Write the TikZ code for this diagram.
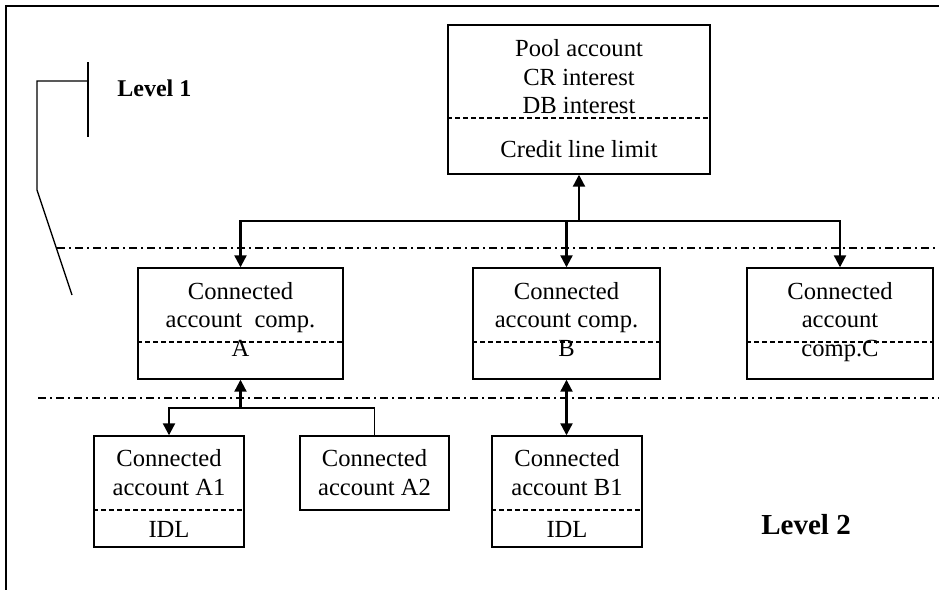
\documentclass[tikz,border=0pt]{standalone}
\usepackage{fontspec}
\setmainfont{Liberation Serif}
\usetikzlibrary{arrows.meta}
\tikzset{
  box/.style={draw, line width=0.7pt, inner sep=0pt, rectangle},
  txt/.style={anchor=base, inner sep=0pt, font=\fontsize{12.3}{14}\selectfont},
  lvl/.style={anchor=base west, inner sep=0pt, font=\bfseries},
  sep/.style={dash pattern=on 2.5pt off 1.5pt, line width=0.55pt},
  levelline/.style={dash pattern=on 4pt off 2pt on 1pt off 2pt, line width=0.65pt},
  conn/.style={line width=1.1pt, -{Triangle[length=6pt,width=6pt]}},
  bothconn/.style={line width=1.1pt, {Triangle[length=6pt,width=6pt]}-{Triangle[length=6pt,width=6pt]}},
  thin/.style={line width=0.7pt}
}
\begin{document}
\begin{tikzpicture}[x=0.5pt,y=-0.5pt]
\useasboundingbox (0,0) rectangle (939,590);
% frame
\draw[line width=0.9pt] (939,6) -- (6,6) -- (6,590);
% level separators
\draw[levelline] (57,248) -- (939,248);
\draw[levelline] (38,398) -- (939,398);
% level 1 bracket
\draw[thin] (88,62) -- (88,137);
\draw[thin] (88,81) -- (37,81) -- (37,190) -- (72,295);
\node[lvl, font=\fontsize{12}{14}\selectfont\bfseries] (lv1) at (117,96) {Level 1};
\node[lvl, font=\fontsize{14.5}{16}\selectfont\bfseries] (lv2) at (761,534) {Level 2};

% boxes
\node[box, minimum width=131pt, minimum height=74.5pt] (pool) at (579,99.5) {};
\node[box, minimum width=102.5pt, minimum height=55.5pt] (A) at (240.5,323.5) {};
\node[box, minimum width=93.5pt, minimum height=55.5pt] (B) at (566.5,323.5) {};
\node[box, minimum width=93pt, minimum height=55.5pt] (C) at (840,323.5) {};
\node[box, minimum width=75pt, minimum height=55.5pt] (A1) at (169,491.5) {};
\node[box, minimum width=74.5pt, minimum height=37pt] (A2) at (374.5,473) {};
\node[box, minimum width=75pt, minimum height=55.5pt] (B1) at (567,491.5) {};

% dashed separators inside boxes
\draw[sep] (pool.west |- 0,118) -- (pool.east |- 0,118);
\draw[sep] (A.west |- 0,342) -- (A.east |- 0,342);
\draw[sep] (B.west |- 0,342) -- (B.east |- 0,342);
\draw[sep] (C.west |- 0,342) -- (C.east |- 0,342);
\draw[sep] (A1.west |- 0,510) -- (A1.east |- 0,510);
\draw[sep] (B1.west |- 0,510) -- (B1.east |- 0,510);

% texts
\node[txt] (p1) at (579,56) {Pool account};
\node[txt] (p2) at (579,85) {CR interest};
\node[txt] (p3) at (579,113) {DB interest};
\node[txt] (p4) at (579,157) {Credit line limit};

\node[txt] (a1) at (240.5,299) {Connected};
\node[txt] (a2) at (240.5,327) {account\ \ comp.};
\node[txt] (a3) at (240.5,356) {A};

\node[txt] (b1) at (566.5,299) {Connected};
\node[txt] (b2) at (566.5,327) {account comp.};
\node[txt] (b3) at (566.5,356) {B};

\node[txt] (c1) at (840,299) {Connected};
\node[txt] (c2) at (840,327) {account};
\node[txt] (c3) at (840,356) {comp.C};

\node[txt] (a11) at (169,466) {Connected};
\node[txt] (a12) at (169,495) {account A1};
\node[txt] (a13) at (169,537) {IDL};

\node[txt] (a21) at (374.5,466) {Connected};
\node[txt] (a22) at (374.5,495) {account A2};

\node[txt] (b11) at (567,466) {Connected};
\node[txt] (b12) at (567,495) {account B1};
\node[txt] (b13) at (567,537) {IDL};

% connectors
\coordinate (hub) at (579,221);
\draw[conn] (hub) -- (pool.south);
\draw[conn] (hub) -| (A.north);
\draw[conn] (hub) -| (C.north);
\draw[conn] (hub -| B.north) -- (B.north);

\coordinate (hubA) at (240.5,408);
\draw[conn] (hubA) -- (A.south);
\draw[conn] (hubA) -| (A1.north);
\draw[thin] (hubA) -| (A2.north);

\draw[bothconn] (B.south) -- (B.south |- B1.north);
\end{tikzpicture}
\end{document}
